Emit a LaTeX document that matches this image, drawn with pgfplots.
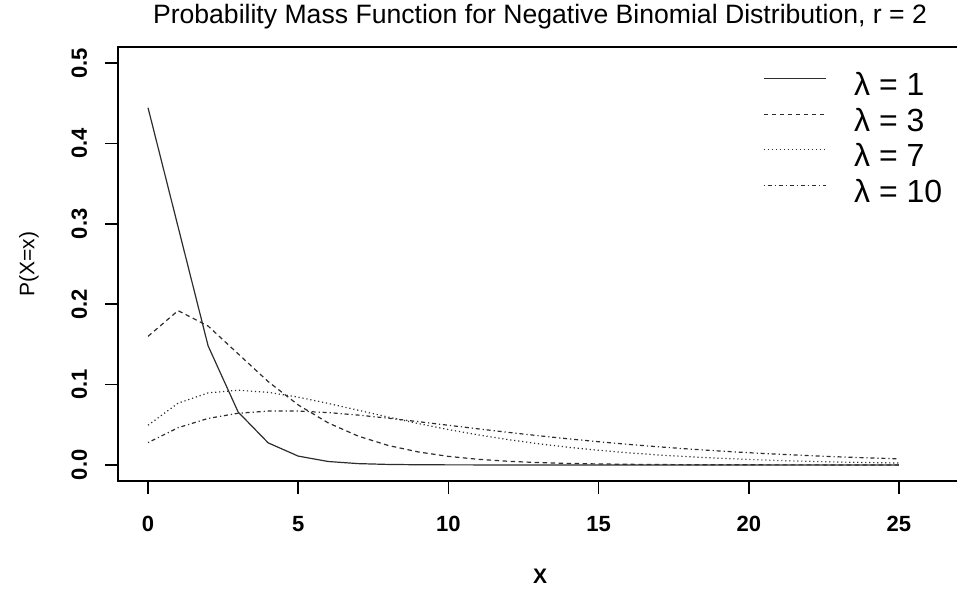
\documentclass[border=0pt]{standalone}
\usepackage{pgfplots}
\pgfplotsset{compat=1.18}
\usepackage{pgfplotstable}
\usepackage{fontspec}
\setmainfont{Liberation Sans}
\definecolor{lc}{RGB}{45,45,45}
\pgfplotstableread{
x l1 l3 l7 l10
0 0.444444 0.160000 0.049383 0.027778
1 0.296296 0.192000 0.076818 0.046296
2 0.148148 0.172800 0.089620 0.057870
3 0.065844 0.138240 0.092940 0.064300
4 0.027435 0.103680 0.090359 0.066980
5 0.010974 0.074650 0.084334 0.066980
6 0.004267 0.052255 0.076526 0.065119
7 0.001626 0.035832 0.068022 0.062018
8 0.000610 0.024186 0.059521 0.058142
9 0.000226 0.016124 0.051437 0.053835
10 0.000083 0.010642 0.044007 0.049349
11 0.000030 0.006966 0.037339 0.044863
12 0.000011 0.004528 0.031462 0.040501
13 0.000004 0.002926 0.026353 0.036347
14 0.000001 0.001881 0.021961 0.032453
15 0.000000 0.001204 0.018219 0.028847
16 0.000000 0.000767 0.015056 0.025542
17 0.000000 0.000487 0.012399 0.022537
18 0.000000 0.000309 0.010179 0.019824
19 0.000000 0.000195 0.008334 0.017389
20 0.000000 0.000123 0.006806 0.015216
21 0.000000 0.000077 0.005546 0.013284
22 0.000000 0.000048 0.004509 0.011573
23 0.000000 0.000030 0.003660 0.010063
24 0.000000 0.000019 0.002965 0.008735
25 0.000000 0.000012 0.002399 0.007570
}\nb
\begin{document}
\begin{tikzpicture}[x=1pt,y=1pt]
\path[use as bounding box] (-118,-111) rectangle (839,481);
\begin{axis}[
  at={(0,0)}, anchor=south west,
  scale only axis, width=844pt, height=434pt,
  xmin=-1, xmax=27.1, ymin=-0.02, ymax=0.52,
  axis line style={line width=1.5pt, black},
  xtick={0,5,10,15,20,25}, xticklabels={0,5,10,15,20,25},
  ytick={0,0.1,0.2,0.3,0.4,0.5}, yticklabels={0.0,0.1,0.2,0.3,0.4,0.5},
  xtick pos=bottom, ytick pos=left,
  tick align=outside, major tick length=12.5pt,
  tick style={line width=1.5pt, black},
  ticklabel style={font=\fontsize{22}{26}\selectfont\bfseries, inner sep=0pt},
  xticklabel style={anchor=base}, xticklabel shift=37.5pt,
  yticklabel style={rotate=90, anchor=base}, yticklabel shift=18.5pt,
  title={Probability Mass Function for Negative Binomial Distribution, r = 2},
  title style={at={(axis description cs:0.5,1)}, anchor=base, yshift=17.7pt, inner sep=0pt, font=\fontsize{26.6}{30}\selectfont},
  xlabel={X},
  xlabel style={at={(axis description cs:0.5,0)}, anchor=base, yshift=-102pt, inner sep=0pt, font=\fontsize{21}{25}\selectfont\bfseries},
  ylabel={P(X=x)},
  ylabel style={at={(axis description cs:-0.1055,0.5)}, anchor=center, inner sep=0pt, font=\fontsize{21}{24}\selectfont},
  legend style={at={(0.7642,0.9378)}, anchor=north west, draw=none, fill=none, inner sep=0pt, outer sep=0pt, row sep=0pt,
    font=\fontsize{32}{36}\selectfont,
    nodes={inner sep=0pt, text height=22pt, text depth=13.5pt},
    /tikz/every odd column/.append style={column sep=28pt}},
  legend cell align=left,
  legend image code/.code={\draw[#1] (0pt,13pt) -- (62pt,13pt);},
  every axis plot/.append style={line width=1.2pt, lc},
]
\addplot[solid] table[x=x, y=l1] {\nb};
\addlegendentry{λ = 1}
\addplot[dash pattern=on 4.5pt off 3.5pt] table[x=x, y=l3] {\nb};
\addlegendentry{λ = 3}
\addplot[dash pattern=on 1.2pt off 2.8pt] table[x=x, y=l7] {\nb};
\addlegendentry{λ = 7}
\addplot[dash pattern=on 1.2pt off 2.8pt on 4pt off 3pt] table[x=x, y=l10] {\nb};
\addlegendentry{λ = 10}
\end{axis}
\end{tikzpicture}
\end{document}
